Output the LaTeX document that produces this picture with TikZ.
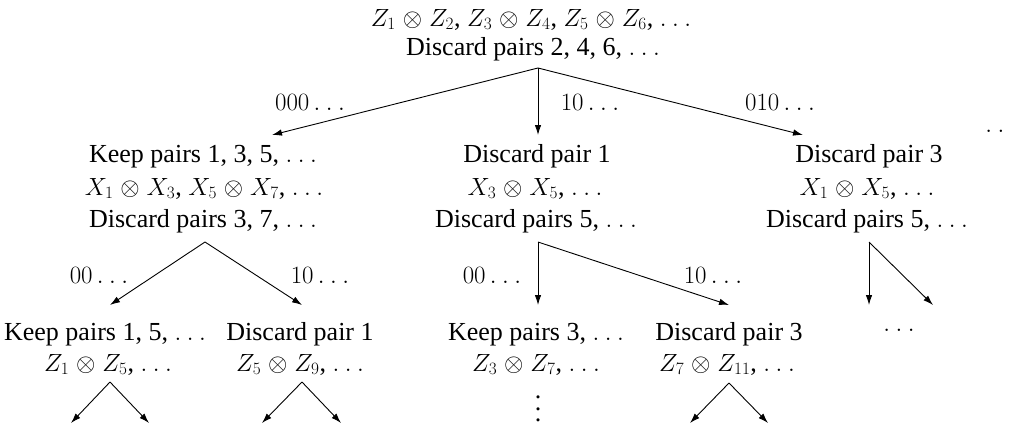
\documentclass[tikz,border=0pt]{standalone}
\usepackage[no-math]{fontspec}
\setmainfont{Liberation Serif}
\usetikzlibrary{arrows.meta}
\newcommand\dts{\mathinner{.\mkern4mu.\mkern4mu.}}
\newcommand\mm[1]{{\fontsize{27}{31}\selectfont$#1$}}
\medmuskip=5mu plus 2mu minus 4mu
\begin{document}
\begin{tikzpicture}[x=1pt,y=-1pt,
  txt/.style={anchor=base,inner sep=0pt,font=\fontsize{26}{31}\selectfont},
  arr/.style={-{Latex[length=10pt,width=6.5pt]},line width=0.9pt}]
\useasboundingbox (0,0) rectangle (1011,429);
% top node
\node[txt] (t1) at (531,26) {\mm{Z_1\otimes Z_2}, \mm{Z_3\otimes Z_4}, \mm{Z_5\otimes Z_6}, $\dts$};
\node[txt] (t2) at (533,55) {Discard pairs 2, 4, 6, $\dts$};
\coordinate (a0) at (538,68);
\coordinate (b1) at (272,135);
\coordinate (b2) at (538,135);
\coordinate (b3) at (803,135);
\draw[arr] (a0) -- (b1);
\draw[arr] (a0) -- (b2);
\draw[arr] (a0) -- (b3);
\node[txt] (l000) at (310,110) {$000\dts$};
\node[txt] (l10) at (590,110) {$10\dts$};
\node[txt] (l010) at (780,110) {$010\dts$};
\node[txt] (tdots) at (1001,132) {$\dts$};
% level 2
\node[txt] (L1) at (203,162) {Keep pairs 1, 3, 5, $\dts$};
\node[txt] (L2) at (204,195) {\mm{X_1\otimes X_3}, \mm{X_5\otimes X_7}, $\dts$};
\node[txt] (L3) at (203,227) {Discard pairs 3, 7, $\dts$};
\node[txt] (M1) at (537,162) {Discard pair 1};
\node[txt] (M2) at (535,195) {\mm{X_3\otimes X_5}, $\dts$};
\node[txt] (M3) at (536,227) {Discard pairs 5, $\dts$};
\node[txt] (R1) at (869,162) {Discard pair 3};
\node[txt] (R2) at (867,195) {\mm{X_1\otimes X_5}, $\dts$};
\node[txt] (R3) at (867,227) {Discard pairs 5, $\dts$};
\coordinate (aL) at (205,242);
\coordinate (aM) at (538,242);
\coordinate (aR) at (869,242);
\coordinate (cL1) at (110,305);
\coordinate (cL2) at (302,305);
\coordinate (cM1) at (538,305);
\coordinate (cM2) at (729,305);
\coordinate (cR1) at (869,305);
\coordinate (cR2) at (933,305);
\draw[arr] (aL) -- (cL1);
\draw[arr] (aL) -- (cL2);
\draw[arr] (aM) -- (cM1);
\draw[arr] (aM) -- (cM2);
\draw[arr] (aR) -- (cR1);
\draw[arr] (aR) -- (cR2);
\node[txt] (lL00) at (99,283) {$00\dts$};
\node[txt] (lL10) at (320,283) {$10\dts$};
\node[txt] (lM00) at (492,283) {$00\dts$};
\node[txt] (lM10) at (713,283) {$10\dts$};
% level 3
\node[txt] (A1) at (105,340) {Keep pairs 1, 5, $\dts$};
\node[txt] (A2) at (108,371) {\mm{Z_1\otimes Z_5}, $\dts$};
\node[txt] (B1) at (300,340) {Discard pair 1};
\node[txt] (B2) at (300,371) {\mm{Z_5\otimes Z_9}, $\dts$};
\node[txt] (C1) at (536,340) {Keep pairs 3, $\dts$};
\node[txt] (C2) at (536,371) {\mm{Z_3\otimes Z_7}, $\dts$};
\node[txt] (D1) at (729,340) {Discard pair 3};
\node[txt] (D2) at (727,371) {\mm{Z_7\otimes Z_{11}}, $\dts$};
\node[txt] (Rdots) at (899,331) {$\dts$};
\node[inner sep=0pt,align=center,font=\fontsize{26}{11.5}\selectfont] (vd) at (538,409) {.\\.\\.};
\coordinate (dA) at (110,382);
\coordinate (dA1) at (71,423);
\coordinate (dA2) at (149,423);
\coordinate (dB) at (302,382);
\coordinate (dB1) at (262,423);
\coordinate (dB2) at (341,423);
\coordinate (dD) at (729,383);
\coordinate (dD1) at (690,423);
\coordinate (dD2) at (768,423);
\draw[arr] (dA) -- (dA1);
\draw[arr] (dA) -- (dA2);
\draw[arr] (dB) -- (dB1);
\draw[arr] (dB) -- (dB2);
\draw[arr] (dD) -- (dD1);
\draw[arr] (dD) -- (dD2);
\end{tikzpicture}
\end{document}
